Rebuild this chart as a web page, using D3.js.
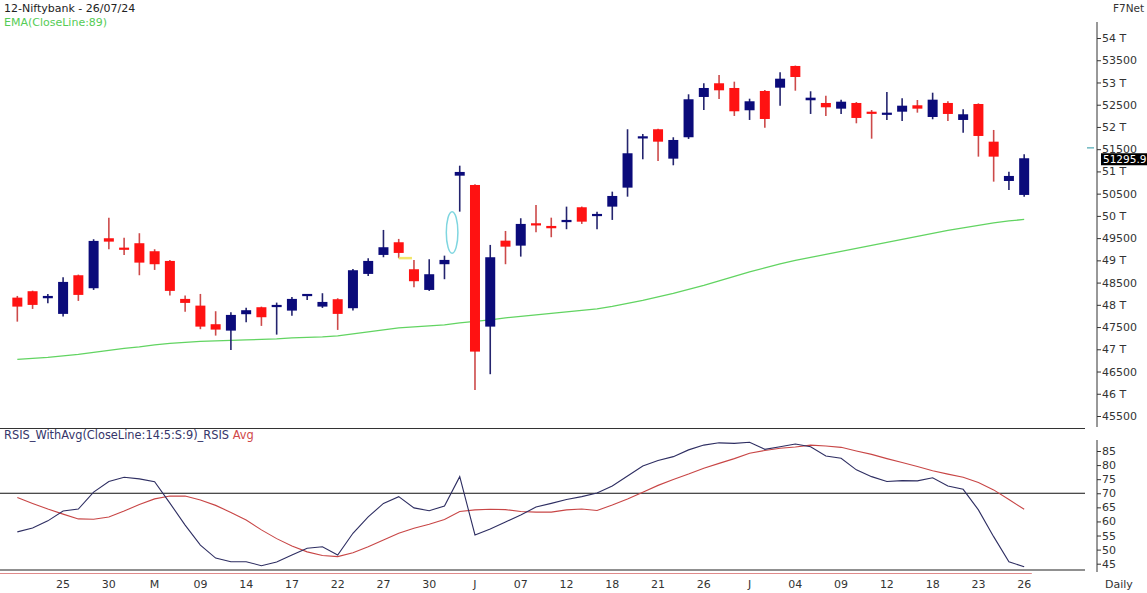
<!DOCTYPE html>
<html><head><meta charset="utf-8">
<script src="https://cdn.jsdelivr.net/npm/d3@7"></script>
<style>
body{margin:0;background:#fff;}
svg{display:block;font-family:"DejaVu Sans",Verdana,sans-serif;}
</style>
</head><body>
<svg id="c" width="1147" height="593"></svg>
<script>
// ---------------- DATA ----------------
const dates = [
 "2024-04-22","2024-04-23","2024-04-24","2024-04-25","2024-04-26","2024-04-29","2024-04-30",
 "2024-05-02","2024-05-03","2024-05-06","2024-05-07","2024-05-08","2024-05-09","2024-05-10",
 "2024-05-13","2024-05-14","2024-05-15","2024-05-16","2024-05-17","2024-05-18","2024-05-21",
 "2024-05-22","2024-05-23","2024-05-24","2024-05-27","2024-05-28","2024-05-29","2024-05-30","2024-05-31",
 "2024-06-03","2024-06-04","2024-06-05","2024-06-06","2024-06-07","2024-06-10","2024-06-11","2024-06-12",
 "2024-06-13","2024-06-14","2024-06-18","2024-06-19","2024-06-20","2024-06-21","2024-06-24","2024-06-25",
 "2024-06-26","2024-06-27","2024-06-28",
 "2024-07-01","2024-07-02","2024-07-03","2024-07-04","2024-07-05","2024-07-08","2024-07-09","2024-07-10",
 "2024-07-11","2024-07-12","2024-07-15","2024-07-16","2024-07-18","2024-07-19","2024-07-22","2024-07-23",
 "2024-07-24","2024-07-25","2024-07-26"
];
const open  = [48162,48306,48148,47796,48665,48373,49497,49286,49385,49205,48987,48133,47982,47564,47420,47789,47946,47960,47870,48223,
               47960,48126,47924,48695,49122,49407,48800,48335,48913,50904,50695,47510,49443,49331,49834,49774,49879,50194,50021,50208,
               50635,51745,51948,51287,51768,52674,52982,52876,52375,52809,52883,53371,52600,52539,52411,52539,52343,52292,52343,52487,
               52224,52539,52157,52516,51669,50785,50471];
const high  = [48200,48319,48245,48620,48680,49475,49960,49511,49610,49250,49010,48207,48245,47856,47834,47937,47960,48050,48178,48245,
               48261,48148,48807,49048,49684,49482,49010,49025,49106,51129,50710,49347,49661,49947,50246,49960,50208,50210,50095,50545,
               51948,51842,51960,51768,52734,52982,53168,53018,52635,52830,53229,53380,52802,52703,52613,52560,52381,52786,52644,52606,
               52770,52577,52397,52531,51932,50994,51386];
const low   = [47622,47908,48036,47735,48088,48335,49250,49122,48665,48785,48207,47847,47452,47308,46986,47609,47526,47330,47757,48110,
               47930,47436,47870,48650,49070,49048,48396,48313,48576,50095,46087,46440,48913,49084,49632,49520,49700,49819,49700,49909,
               50432,51273,51235,51138,51730,52381,52629,52247,52157,51984,52478,52815,52292,52247,52292,52082,51736,52157,52134,52321,
               52172,52134,51871,51332,50770,50583,50432];
const close = [47960,47998,48200,48515,48223,49437,49421,49250,48949,48913,48313,48043,47510,47443,47773,47879,47721,47998,48133,48245,
               48065,47796,48778,48987,49295,49167,48531,48688,49010,50988,46948,49070,49308,49819,49796,49722,49909,49870,50044,50448,
               51408,51790,51669,51707,52622,52876,52824,52352,52577,52179,53085,53123,52658,52442,52568,52202,52298,52321,52478,52411,
               52613,52292,52285,51797,51332,50898,51295.9];
const ema89 = [46773,46795,46818,46851,46885,46930,46975,47020,47054,47099,47132,47155,47177,47189,47200,47211,47222,47234,47256,47267,
               47278,47301,47346,47391,47436,47481,47503,47526,47548,47593,47627,47661,47706,47739,47773,47807,47840,47874,47908,47964,
               48032,48099,48178,48256,48346,48436,48537,48639,48740,48830,48920,48998,49066,49133,49200,49268,49335,49403,49470,49538,
               49605,49673,49729,49785,49841,49886,49920];
const rsis = [56.3,57.7,60.2,63.7,64.4,70.4,74.2,75.7,75.1,74.1,66.5,58.7,51.6,47.0,45.7,45.7,44.3,45.6,48.1,50.5,
              51.0,48.1,55.8,61.6,66.4,68.8,64.8,63.8,65.5,75.9,55.2,57.3,59.8,62.3,65.1,66.4,67.8,68.8,70.1,72.6,
              76.1,79.7,81.6,83.0,85.4,87.1,87.9,87.7,88.1,85.6,86.5,87.5,86.5,83.2,82.4,78.3,75.9,74.2,74.5,74.4,
              75.5,72.6,71.4,64.1,54.6,45.7,43.9];
const rsisAvg = [68.5,66.4,64.4,62.6,60.9,60.8,61.6,63.7,66.0,68.0,69.0,69.0,67.6,65.7,63.2,60.5,57.0,53.9,51.3,49.2,
                 47.9,47.5,48.9,51.0,53.4,55.8,57.6,59.0,60.7,63.5,64.1,64.3,64.2,63.5,63.3,63.3,64.1,64.4,63.9,65.8,
                 68.0,70.4,72.8,74.9,76.8,78.9,80.6,82.3,84.2,85.2,86.0,86.4,87.1,86.8,86.3,85.0,83.8,82.3,80.9,79.5,
                 78.0,76.8,75.7,73.8,71.2,67.8,64.3];
const tickDates  = ["2024-04-25","2024-04-30","2024-05-06","2024-05-09","2024-05-14","2024-05-17","2024-05-22","2024-05-27",
                    "2024-05-30","2024-06-04","2024-06-07","2024-06-12","2024-06-18","2024-06-21","2024-06-26","2024-07-01",
                    "2024-07-04","2024-07-09","2024-07-12","2024-07-18","2024-07-23","2024-07-26"];
const tickLabels = ["25","30","M","09","14","17","22","27","30","J","07","12","18","21","26","J","04","09","12","18","23","26"];
const priceTicks = [45500,46000,46500,47000,47500,48000,48500,49000,49500,50000,50500,51000,51500,52000,52500,53000,53500,54000];
const rsiTicks   = [45,50,55,60,65,70,75,80,85];
const rsiLevel   = 70;
const lastPrice  = 51295.9;
const markerPrice = 51530;
const gapEllipse = {from:"2024-05-31", to:"2024-06-03", lo:49160, hi:50095};
const gapDash    = {from:"2024-05-28", to:"2024-05-29", value:49050};

// ---------------- CHART ----------------
const svg = d3.select("#c");
const xb = d3.scaleBand().domain(dates).range([9.7, 1031.8]).padding(0);
const cx = d => xb(d) + xb.bandwidth()/2;
const bodyW = 10;
const y  = d3.scaleLinear().domain([45500,54000]).range([416,38]);
const yr = d3.scaleLinear().domain([45,85]).range([563.7,451]);

const bars = dates.map((d,i)=>({d, o:open[i], h:high[i], l:low[i], c:close[i]}));

// EMA
svg.append("path").datum(dates.map((d,i)=>[d,ema89[i]]))
  .attr("fill","none").attr("stroke","#62d462").attr("stroke-width",1.3)
  .attr("d", d3.line().x(p=>cx(p[0])).y(p=>y(p[1])));

// candles
const cg = svg.append("g");
cg.selectAll("line").data(bars).join("line")
  .attr("x1",b=>cx(b.d)).attr("x2",b=>cx(b.d))
  .attr("y1",b=>y(b.h)).attr("y2",b=>y(b.l))
  .attr("stroke",b=>b.c>=b.o?"#24246e":"#cc4a4a").attr("stroke-width",1.6);
cg.selectAll("rect").data(bars).join("rect")
  .attr("x",b=>cx(b.d)-bodyW/2).attr("width",bodyW)
  .attr("y",b=>y(Math.max(b.o,b.c)))
  .attr("height",b=>Math.max(2.2, Math.abs(y(b.o)-y(b.c))))
  .attr("fill",b=>b.c>=b.o?"#0b0b7a":"#ff1212");

// annotations
svg.append("ellipse")
  .attr("cx",(cx(gapEllipse.from)+cx(gapEllipse.to))/2)
  .attr("cy",(y(gapEllipse.lo)+y(gapEllipse.hi))/2)
  .attr("rx",5.8).attr("ry",(y(gapEllipse.lo)-y(gapEllipse.hi))/2)
  .attr("fill","none").attr("stroke","#7fd6e0").attr("stroke-width",1.5);
svg.append("line")
  .attr("x1",cx(gapDash.from)).attr("x2",cx(gapDash.to)-2)
  .attr("y1",y(gapDash.value)).attr("y2",y(gapDash.value))
  .attr("stroke","#f2e66a").attr("stroke-width",2.5);

// price axis
svg.append("line").attr("x1",1097).attr("x2",1097).attr("y1",22).attr("y2",427).attr("stroke","#333");
const pa = svg.append("g").attr("transform","translate(1097,0)")
  .call(d3.axisRight(y).tickValues(priceTicks).tickSize(4).tickPadding(1)
        .tickFormat(v => v%1000===0 ? (v/1000)+" T" : String(v)));
pa.select(".domain").remove();
pa.selectAll("line").attr("stroke","#333");
pa.selectAll("text").attr("font-size",11).attr("fill","#333").attr("font-family","DejaVu Sans");

// last price label & marker
svg.append("line").attr("x1",1087).attr("x2",1094).attr("y1",y(markerPrice)).attr("y2",y(markerPrice))
  .attr("stroke","#6fb8c0").attr("stroke-width",1.5);
svg.append("rect").attr("x",1101).attr("y",y(lastPrice)-5).attr("width",46).attr("height",12).attr("fill","#000");
svg.append("text").attr("x",1103).attr("y",y(lastPrice)+5.2).attr("font-size",10.5).attr("fill","#fff").text(lastPrice.toFixed(1));

// RSI panel frame lines
svg.append("line").attr("x1",0).attr("x2",1085).attr("y1",428.5).attr("y2",428.5).attr("stroke","#333").attr("stroke-width",1.2);
svg.append("line").attr("x1",0).attr("x2",1085).attr("y1",yr(rsiLevel)).attr("y2",yr(rsiLevel)).attr("stroke","#111").attr("stroke-width",1);
svg.append("line").attr("x1",0).attr("x2",1085).attr("y1",570).attr("y2",570).attr("stroke","#222").attr("stroke-width",1.2);
svg.append("line").attr("x1",0).attr("x2",1031.8).attr("y1",573.5).attr("y2",573.5).attr("stroke","#e08a8a").attr("stroke-width",1);

// RSI lines
svg.append("path").datum(dates.map((d,i)=>[d,rsisAvg[i]]))
  .attr("fill","none").attr("stroke","#c84646").attr("stroke-width",1.1)
  .attr("d", d3.line().x(p=>cx(p[0])).y(p=>yr(p[1])));
svg.append("path").datum(dates.map((d,i)=>[d,rsis[i]]))
  .attr("fill","none").attr("stroke","#2e2e62").attr("stroke-width",1.1)
  .attr("d", d3.line().x(p=>cx(p[0])).y(p=>yr(p[1])));

// RSI axis
svg.append("line").attr("x1",1097).attr("x2",1097).attr("y1",440).attr("y2",572).attr("stroke","#333");
const ra = svg.append("g").attr("transform","translate(1097,0)")
  .call(d3.axisRight(yr).tickValues(rsiTicks).tickSize(4).tickPadding(1));
ra.select(".domain").remove();
ra.selectAll("line").attr("stroke","#333");
ra.selectAll("text").attr("font-size",11).attr("fill","#333").attr("font-family","DejaVu Sans");

// x axis
const xa = svg.append("g").attr("transform","translate(0,576)")
  .call(d3.axisBottom(xb).tickValues(tickDates).tickSize(0).tickPadding(4)
        .tickFormat(d => tickLabels[tickDates.indexOf(d)]));
xa.select(".domain").remove();
xa.selectAll("text").attr("font-size",11).attr("fill","#333").attr("font-family","DejaVu Sans");

// titles
svg.append("text").attr("x",4).attr("y",12).attr("font-size",11).attr("fill","#222").text("12-Niftybank - 26/07/24");
svg.append("text").attr("x",4).attr("y",26).attr("font-size",11).attr("fill","#55cc55").text("EMA(CloseLine:89)");
svg.append("text").attr("x",1113).attr("y",12).attr("font-size",10.5).attr("fill","#333").text("F7Net");
svg.append("text").attr("x",1105).attr("y",588).attr("font-size",11).attr("fill","#333").text("Daily");
const lg = svg.append("text").attr("x",4).attr("y",439).attr("font-size",11.4);
lg.append("tspan").attr("fill","#35356a").text("RSIS_WithAvg(CloseLine:14:5:S:9)_RSIS ");
lg.append("tspan").attr("fill","#d04848").text("Avg");
</script>
</body></html>
